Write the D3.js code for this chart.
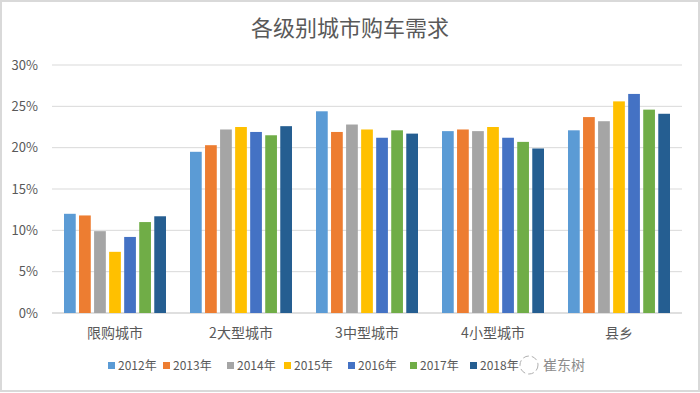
<!DOCTYPE html>
<html>
<head>
<meta charset="utf-8">
<script src="https://cdn.jsdelivr.net/npm/d3@7"></script>
<style>
  body { margin: 0; background: #fff; }
  svg { display: block; font-family: "Noto Sans CJK SC", "Microsoft YaHei", sans-serif; }
</style>
</head>
<body>
<div id="chart"></div>
<script>
// 城市级别
const categories = ["限购城市", "2大型城市", "3中型城市", "4小型城市", "县乡"];
const years = ["2012年", "2013年", "2014年", "2015年", "2016年", "2017年", "2018年"];
const colors = ["#5B9BD5", "#ED7D31", "#A5A5A5", "#FFC000", "#4472C4", "#70AD47", "#255E91"];

// 每个年份对应5个城市级别的比例 (%)
const v2012 = [12.0, 19.5, 24.4, 22.0, 22.1];
const v2013 = [11.8, 20.3, 21.9, 22.2, 23.7];
const v2014 = [9.9, 22.2, 22.8, 22.0, 23.2];
const v2015 = [7.4, 22.5, 22.2, 22.5, 25.6];
const v2016 = [9.2, 21.9, 21.2, 21.2, 26.5];
const v2017 = [11.0, 21.5, 22.1, 20.7, 24.6];
const v2018 = [11.7, 22.6, 21.7, 19.9, 24.1];
const series = [v2012, v2013, v2014, v2015, v2016, v2017, v2018];

const yTicks = [0, 5, 10, 15, 20, 25, 30];

//==============================================================================

const width = 700, height = 393;
const margin = {left: 52, right: 18, top: 65, bottom: 80};

const svg = d3.select("#chart").append("svg")
    .attr("width", width)
    .attr("height", height);

// 外框
svg.append("rect")
    .attr("x", 1).attr("y", 1)
    .attr("width", width - 2).attr("height", height - 3)
    .attr("fill", "#fff")
    .attr("stroke", "#d9d9d9")
    .attr("stroke-width", 2);

svg.append("text")
    .attr("x", width / 2)
    .attr("y", 36)
    .attr("text-anchor", "middle")
    .attr("font-size", 22)
    .attr("fill", "#595959")
    .text("各级别城市购车需求");

const x0 = d3.scaleBand()
    .domain(categories)
    .range([margin.left, width - margin.right]);

const x1 = d3.scaleBand()
    .domain(years)
    .range([12, x0.bandwidth() - 12])
    .paddingInner(0.22);

const y = d3.scaleLinear()
    .domain([0, 30])
    .range([height - margin.bottom, margin.top]);

// 网格线
svg.append("g")
  .selectAll("line")
  .data(yTicks)
  .join("line")
    .attr("x1", margin.left)
    .attr("x2", width - margin.right)
    .attr("y1", d => y(d))
    .attr("y2", d => y(d))
    .attr("stroke", d => d === 0 ? "#bfbfbf" : "#d9d9d9")
    .attr("stroke-width", 1);

svg.append("g")
  .selectAll("text")
  .data(yTicks)
  .join("text")
    .attr("x", 38)
    .attr("y", d => y(d))
    .attr("dy", "0.35em")
    .attr("text-anchor", "end")
    .attr("font-size", 13)
    .attr("fill", "#595959")
    .text(d => d + "%");

// 柱子
const groups = svg.append("g")
  .selectAll("g")
  .data(categories)
  .join("g")
    .attr("transform", d => `translate(${x0(d)},0)`);

groups.selectAll("rect")
  .data((d, i) => years.map((yr, j) => ({year: yr, value: series[j][i], color: colors[j]})))
  .join("rect")
    .attr("x", d => x1(d.year))
    .attr("width", x1.bandwidth())
    .attr("y", d => y(d.value))
    .attr("height", d => y(0) - y(d.value))
    .attr("fill", d => d.color);

svg.append("g")
  .selectAll("text")
  .data(categories)
  .join("text")
    .attr("x", d => x0(d) + x0.bandwidth() / 2)
    .attr("y", 333)
    .attr("dy", "0.35em")
    .attr("text-anchor", "middle")
    .attr("font-size", 14)
    .attr("fill", "#595959")
    .text(d => d);

// 图例
const legendX = [108, 163, 227, 284, 348, 410, 470];
const legend = svg.append("g")
  .selectAll("g")
  .data(years)
  .join("g")
    .attr("transform", (d, i) => `translate(${legendX[i]},366)`);

legend.append("rect")
    .attr("x", 0).attr("y", -4)
    .attr("width", 7).attr("height", 7)
    .attr("fill", (d, i) => colors[i]);

legend.append("text")
    .attr("x", 10)
    .attr("dy", "0.35em")
    .attr("font-size", 12)
    .attr("fill", "#595959")
    .text(d => d);

// 水印
svg.append("circle")
    .attr("cx", 529).attr("cy", 365)
    .attr("r", 9)
    .attr("fill", "none")
    .attr("stroke", "#b0b0b0")
    .attr("stroke-width", 1)
    .attr("stroke-dasharray", "6,3");

svg.append("text")
    .attr("x", 543)
    .attr("y", 365)
    .attr("dy", "0.35em")
    .attr("font-size", 14)
    .attr("fill", "#8c8c8c")
    .text("崔东树");
</script>
</body>
</html>
